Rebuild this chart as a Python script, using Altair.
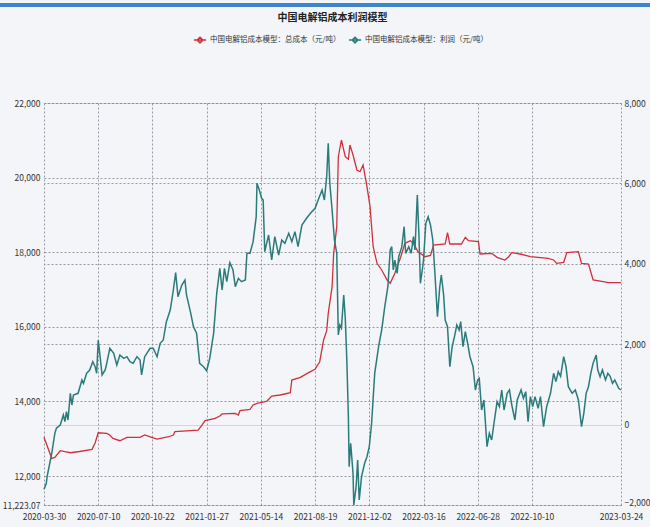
import altair as alt
import pandas as pd

FONT = "Noto Sans CJK SC"
RED = "#d0303e"
TEAL = "#2c7b7b"

title_text = "中国电解铝成本利润模型"
cost_name = "中国电解铝成本模型：总成本（元/吨）"
profit_name = "中国电解铝成本模型：利润（元/吨）"

# x axis: trading-day index with its date labels
x_tick_idx = [0, 70, 140, 210, 280, 350, 420, 490, 560, 630, 745]
x_tick_labels = ["2020-03-30", "2020-07-10", "2020-10-22", "2021-01-27", "2021-05-14",
                 "2021-08-19", "2021-12-02", "2022-03-16", "2022-06-28", "2022-10-10",
                 "2023-03-24"]

left_ticks = [11223.07, 12000, 14000, 16000, 18000, 20000, 22000]
right_ticks = [-2000, 0, 2000, 4000, 6000, 8000]

cost_idx = [0, 10, 14, 21, 27, 34, 46, 62, 66, 70, 81, 85, 89, 98, 107, 124, 130, 139, 146, 161,
            167, 169, 199, 204, 208, 221, 227, 230, 247, 251, 253, 266, 270, 275, 288, 294, 305,
            318, 320, 331, 344, 350, 352, 356, 361, 365, 367, 372, 374, 378, 380, 384, 389, 393,
            395, 399, 404, 408, 412, 417, 421, 425, 430, 436, 443, 447, 453, 460, 466, 473, 477,
            483, 492, 499, 503, 518, 521, 524, 539, 544, 548, 561, 563, 578, 585, 595, 600, 604,
            615, 628, 651, 658, 662, 671, 675, 690, 694, 703, 709, 722, 729, 745]
cost_val = [13040, 12474, 12500, 12678, 12651, 12624, 12657, 12716, 12885, 13160, 13145, 13100,
            13010, 12946, 13037, 13037, 13100, 13037, 12991, 13053, 13100, 13190, 13233, 13367,
            13483, 13547, 13609, 13664, 13681, 13636, 13752, 13788, 13904, 13949, 14010, 14145,
            14172, 14233, 14573, 14646, 14799, 14862, 14933, 15064, 15646, 15890, 16360, 17075,
            17970, 18684, 20560, 21008, 20560, 20490, 20874, 20606, 20204, 20158, 20338, 19756,
            19220, 18147, 17702, 17523, 17255, 17166, 17434, 17836, 18238, 18309, 18238, 18013,
            17880, 17912, 18193, 18220, 18523, 18220, 18220, 18400, 18309, 18282, 17952, 17970,
            17863, 17791, 17880, 17988, 17952, 17880, 17836, 17791, 17702, 17729, 17988, 18013,
            17702, 17684, 17255, 17210, 17182, 17182]

profit_idx = [0, 3, 4, 7, 10, 14, 16, 21, 25, 27,
              29, 31, 34, 36, 38, 44, 49, 51, 55, 59,
              63, 66, 68, 70, 72, 75, 79, 81, 85, 90,
              94, 98, 103, 107, 111, 115, 120, 124, 126, 130,
              137, 141, 146, 150, 154, 158, 163, 167, 170, 173,
              178, 182, 184, 189, 193, 197, 201, 206, 210, 214,
              219, 223, 227, 230, 233, 236, 240, 244, 247, 251,
              255, 260, 262, 266, 270, 274, 275, 278, 281, 283,
              285, 290, 294, 298, 303, 307, 311, 316, 320, 324,
              328, 333, 339, 344, 350, 354, 359, 362, 365, 367,
              369, 372, 375, 378, 380, 382, 384, 387, 389, 391,
              393, 394, 396, 399, 400, 403, 405, 407, 410, 414,
              417, 420, 423, 427, 432, 436, 440, 444, 447, 449,
              451, 453, 456, 458, 462, 465, 467, 471, 474, 477,
              479, 482, 484, 486, 489, 490, 493, 496, 499, 502,
              505, 508, 511, 513, 516, 518, 521, 524, 527, 530,
              533, 536, 538, 541, 544, 547, 550, 554, 557, 560,
              562, 565, 568, 572, 575, 578, 581, 585, 588, 591,
              594, 598, 601, 604, 608, 611, 616, 619, 622, 625,
              628, 631, 634, 638, 641, 645, 649, 654, 658, 661,
              664, 667, 671, 674, 677, 682, 686, 690, 694, 697,
              700, 703, 706, 709, 713, 715, 718, 721, 725, 728,
              731, 734, 737, 742, 745]
profit_val = [-1610, -1461, -1296, -1005, -714, -217, -92, -10, 239, 72,
              321, 114, 778, 487, 736, 778, 1110, 1027, 1276, 1358,
              1565, 1441, 1276, 2104, 1773, 1234, 1358, 1524, 1898, 1773,
              1482, 1731, 1648, 1689, 1565, 1524, 1689, 1607, 1234, 1689,
              1898, 1898, 1689, 2022, 2104, 2560, 2851, 3348, 3779, 3183,
              3473, 3597, 3224, 2809, 2436, 2271, 1524, 1441, 1341, 1648,
              2271, 3266, 3888, 3348, 3888, 3555, 4028, 3846, 3430, 3639,
              3555, 3597, 4261, 4261, 4550, 5172, 6002, 5836, 5629, 5587,
              4301, 4716, 4094, 4674, 4219, 4592, 4510, 4759, 4550, 4800,
              4426, 4965, 5132, 5256, 5380, 5587, 5836, 5587, 6167, 6997,
              6002, 5338, 4592, 4261, 2229, 2478, 2400, 3224, 2644, 1607,
              197, -1047, -465, -1212, -2000, -1545, -881, -1876, -1296, -963,
              -799, -550, 32, 1276, 1938, 2353, 2933, 3430, 4343, 4426,
              3846, 4094, 3764, 4177, 4426, 4923, 4261, 4426, 4261, 4674,
              4343, 5712, 4758, 3515, 3928, 4094, 5007, 5172, 4965, 4592,
              3679, 2684, 3430, 3721, 3224, 2602, 2436, 1441, 1938, 2187,
              2478, 2353, 2560, 1938, 2311, 2022, 1689, 1441, 861, 1110,
              1150, 363, 612, -550, -217, -383, 32, 570, 446, 861,
              363, 778, 861, 487, 114, 612, 861, 654, 820, 72,
              695, 446, 695, 405, 695, -52, 446, 778, 1276, 1068,
              1316, 1200, 1689, 1441, 943, 778, 861, 612, -52, 281,
              778, 943, 1276, 1524, 1731, 1358, 1192, 1358, 1110, 1276,
              1200, 1027, 1110, 903, 861]

cost_df = pd.DataFrame({"idx": cost_idx, "value": cost_val, "series": cost_name})
profit_df = pd.DataFrame({"idx": profit_idx, "value": profit_val, "series": profit_name})

label_expr = " : ".join(
    f"datum.value == {i} ? '{lab}'" for i, lab in zip(x_tick_idx, x_tick_labels)
) + " : ''"

GRID = "#7d838c"
LFS = 8.5

x_enc = alt.X(
    "idx:Q",
    scale=alt.Scale(domain=[x_tick_idx[0], x_tick_idx[-1]], nice=False, zero=False),
    axis=alt.Axis(
        values=x_tick_idx, labelExpr=label_expr, title=None, domain=False, ticks=False,
        grid=True, gridColor=GRID, gridDash=[2, 2], gridWidth=0.8,
        labelFont=FONT, labelFontSize=LFS, labelColor="#333", labelPadding=7,
        labelOverlap=False, labelFlush=False, labelBound=False,
    ),
)

legend = alt.Legend(
    title=None, orient="none", legendX=149, legendY=-70, direction="horizontal",
    symbolType="M-1,0H1M0,-0.45L0.45,0L0,0.45L-0.45,0Z", symbolSize=150,
    symbolStrokeWidth=1.6, labelFont=FONT, labelFontSize=7.5, labelColor="#333",
    columnPadding=4, labelOffset=3, labelLimit=300,
)
color_enc = alt.Color(
    "series:N",
    scale=alt.Scale(domain=[cost_name, profit_name], range=[RED, TEAL]),
    legend=legend,
)

cost_line = alt.Chart(cost_df).mark_line(strokeWidth=1.3).encode(
    x=x_enc,
    y=alt.Y(
        "value:Q",
        scale=alt.Scale(domain=[left_ticks[0], left_ticks[-1]], nice=False, zero=False),
        axis=alt.Axis(
            orient="left", values=left_ticks, title=None, domain=False, ticks=False,
            labelExpr="datum.value < 11999 ? format(datum.value, ',.2f') : format(datum.value, ',.0f')",
            grid=True, gridColor=GRID, gridDash=[2, 2], gridWidth=0.8,
            labelFont=FONT, labelFontSize=LFS, labelColor="#333", labelPadding=4,
        ),
    ),
    color=color_enc,
)

profit_line = alt.Chart(profit_df).mark_line(strokeWidth=1.5).encode(
    x=x_enc,
    y=alt.Y(
        "value:Q",
        scale=alt.Scale(domain=[right_ticks[0], right_ticks[-1]], nice=False, zero=False),
        axis=alt.Axis(
            orient="right", values=right_ticks, title=None, domain=False, ticks=False,
            format=",.0f",
            grid=True,
            gridColor={"condition": {"test": "datum.value === 0", "value": "#c9cdd3"}, "value": GRID},
            gridDash={"condition": {"test": "datum.value === 0", "value": []}, "value": [2, 2]},
            gridWidth=0.8,
            labelOffset={"condition": {"test": "datum.value === -2000", "value": -3}, "value": 0},
            labelFont=FONT, labelFontSize=LFS, labelColor="#333", labelPadding=3,
        ),
    ),
    color=color_enc,
)

top_bar = alt.Chart(pd.DataFrame({"k": [0]})).mark_rule(color="#3b86cf", strokeWidth=4).encode(
    x=alt.value(-44), x2=alt.value(606), y=alt.value(-98)
)

chart = alt.layer(cost_line, profit_line, top_bar).resolve_scale(y="independent").properties(
    width=577,
    height=402,
    title=alt.TitleParams(
        title_text, font=FONT, fontSize=10, fontWeight="bold", color="#222",
        anchor="middle", offset=-20,
    ),
    background="#f3f5f8",
    padding={"left": 44, "top": 103, "right": 29, "bottom": 22},
    autosize=alt.AutoSizeParams(type="none"),
).configure_view(strokeWidth=0)

chart.save("out.html", embed_options={"renderer": "svg", "actions": False})
